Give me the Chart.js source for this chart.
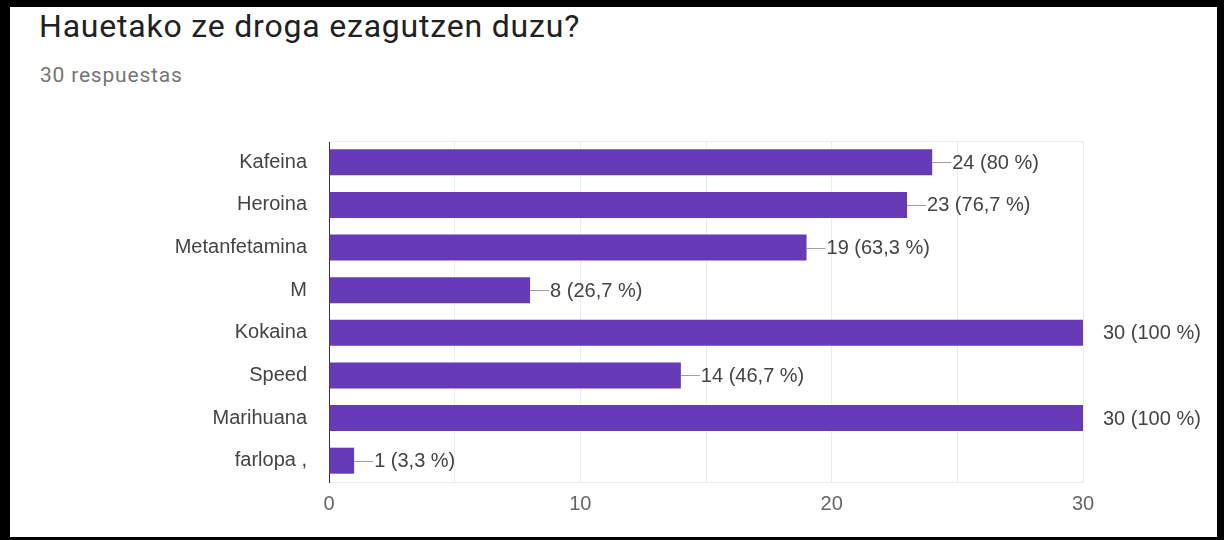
<!DOCTYPE html>
<html>
<head>
<meta charset="utf-8">
<script src="https://cdn.jsdelivr.net/npm/chart.js@4.4.1/dist/chart.umd.min.js"></script>
<style>
  body { margin: 0; background: #000; width: 1224px; height: 540px; overflow: hidden; }
  #frame { position: absolute; left: 10px; top: 7px; width: 1207px; height: 530px; background: #fff; }
  #titulo { position: absolute; left: 29px; top: 3px; font: 32px/32px Roboto, sans-serif; letter-spacing: 0.8px; color: #212121; white-space: nowrap; }
  #respuestas { position: absolute; left: 30px; top: 58px; font: 21px/21px Roboto, sans-serif; letter-spacing: 0.8px; color: #757575; white-space: nowrap; }
  #myChart { position: absolute; left: 0; top: 0; }
</style>
</head>
<body>
<div id="frame">
  <div id="titulo">Hauetako ze droga ezagutzen duzu?</div>
  <div id="respuestas">30 respuestas</div>
  <canvas id="myChart" width="1207" height="530"></canvas>
</div>
<script>
// datos
const drogas = ["Kafeina", "Heroina", "Metanfetamina", "M", "Kokaina", "Speed", "Marihuana", "farlopa ,"];
const respuestas = [24, 23, 19, 8, 30, 14, 30, 1];
const porcentajes = [80, 76.7, 63.3, 26.7, 100, 46.7, 100, 3.3];
const ticksX = [0, 10, 20, 30];

const fuente = "'Liberation Sans', Arial, sans-serif";

// etiqueta con linea al final de cada barra
const etiquetas = {
    id: 'etiquetas',
    afterDatasetsDraw(chart) {
        const c = chart.ctx;
        const meta = chart.getDatasetMeta(0);
        const maximo = Math.max(...respuestas);
        c.save();
        c.font = "20px " + fuente;
        c.textBaseline = 'middle';
        c.textAlign = 'left';
        meta.data.forEach((bar, i) => {
            const x = bar.x, y = bar.y;
            if (respuestas[i] < maximo) {
                c.strokeStyle = '#9e9e9e';
                c.lineWidth = 1;
                c.beginPath();
                c.moveTo(x, Math.round(y) + 0.5);
                c.lineTo(x + 19, Math.round(y) + 0.5);
                c.stroke();
            }
            c.fillStyle = '#444';
            const txt = respuestas[i] + " (" + String(porcentajes[i]).replace('.', ',') + " %)";
            c.fillText(txt, x + 20, y + 1);
        });
        // linea superior del area
        const a = chart.chartArea;
        c.strokeStyle = '#ececec';
        c.beginPath();
        c.moveTo(a.left, a.top + 0.5);
        c.lineTo(a.right, a.top + 0.5);
        c.stroke();
        c.restore();
    }
};

const ctx = document.querySelector("#myChart");
new Chart(ctx, {
    type: 'bar',
    data: {
        labels: drogas,
        datasets: [{
            data: respuestas,
            backgroundColor: '#673ab7',
            barPercentage: 0.61,
            categoryPercentage: 1
        }]
    },
    options: {
        indexAxis: 'y',
        responsive: false,
        animation: false,
        devicePixelRatio: 1,
        layout: { padding: { top: 134, right: 134, bottom: 15, left: 0 } },
        plugins: { legend: { display: false }, tooltip: { enabled: false } },
        scales: {
            x: {
                min: 0,
                max: 30,
                afterFit: (s) => { s.height = 40; },
                ticks: {
                    stepSize: 5,
                    padding: 10,
                    color: '#666',
                    font: { size: 20, family: fuente },
                    callback: (v) => ticksX.includes(v) ? v : ''
                },
                grid: { color: '#ececec', drawTicks: false },
                border: { display: true, color: '#ececec' }
            },
            y: {
                afterFit: (s) => { s.width = 319; },
                ticks: {
                    padding: 14,
                    color: '#444',
                    font: { size: 20, family: fuente }
                },
                grid: { display: false },
                border: { display: true, color: '#333', width: 1 }
            }
        }
    },
    plugins: [etiquetas]
});
</script>
</body>
</html>
